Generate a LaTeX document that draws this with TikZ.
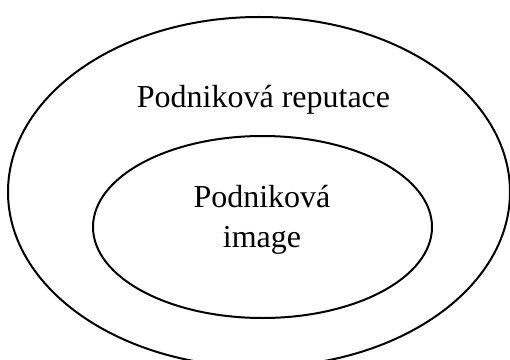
\documentclass[tikz,border=0pt]{standalone}
\usepackage{fontspec}
\setmainfont{Liberation Serif}
\usetikzlibrary{shapes.geometric}
\begin{document}
\begin{tikzpicture}[x=1pt,y=1pt,
  ring/.style={draw=black, line width=2pt, ellipse, inner sep=0pt},
  lbl/.style={anchor=base, font=\fontsize{32}{38}\selectfont, inner sep=0pt}]
\useasboundingbox (0,0) rectangle (510,359);
\clip (0,0) rectangle (510,359);
\node[ring, minimum width=502pt, minimum height=350pt] (outer) at (259,167) {};
\node[ring, minimum width=339pt, minimum height=182pt] (inner) at (262.5,132) {};
\node[lbl] (rep) at (263.5,251) {Podniková reputace};
\node[lbl] (img1) at (262,152) {Podniková};
\node[lbl] (img2) at (262,112) {image};
\end{tikzpicture}
\end{document}
